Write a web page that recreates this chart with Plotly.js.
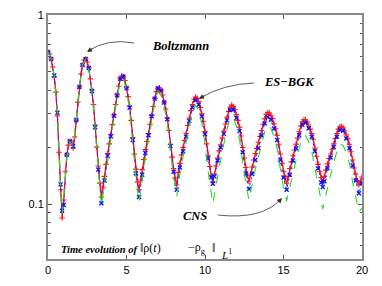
<!DOCTYPE html>
<html>
<head>
<meta charset="utf-8">
<script src="https://cdn.plot.ly/plotly-3.0.1.min.js"></script>
<style>html,body{margin:0;padding:0;background:#fff;}#chart{width:382px;height:286px;}</style>
</head>
<body>
<div id="chart"></div>
<script>
// time grid of the Boltzmann curve
var tBoltz = [0,0.1,0.2,0.3,0.4,0.5,0.6,0.7,0.8,0.9,1,1.1,1.2,1.3,1.4,1.5,1.6,1.7,1.8,1.9,2,2.1,2.2,2.3,2.4,2.5,2.6,2.7,2.8,2.9,3,3.1,3.2,3.3,3.4,3.5,3.6,3.7,3.8,3.9,4,4.1,4.2,4.3,4.4,4.5,4.6,4.7,4.8,4.9,5,5.1,5.2,5.3,5.4,5.5,5.6,5.7,5.8,5.9,6,6.1,6.2,6.3,6.4,6.5,6.6,6.7,6.8,6.9,7,7.1,7.2,7.3,7.4,7.5,7.6,7.7,7.8,7.9,8,8.1,8.2,8.3,8.4,8.5,8.6,8.7,8.8,8.9,9,9.1,9.2,9.3,9.4,9.5,9.6,9.7,9.8,9.9,10,10.1,10.2,10.3,10.4,10.5,10.6,10.7,10.8,10.9,11,11.1,11.2,11.3,11.4,11.5,11.6,11.7,11.8,11.9,12,12.1,12.2,12.3,12.4,12.5,12.6,12.7,12.8,12.9,13,13.1,13.2,13.3,13.4,13.5,13.6,13.7,13.8,13.9,14,14.1,14.2,14.3,14.4,14.5,14.6,14.7,14.8,14.9,15,15.1,15.2,15.3,15.4,15.5,15.6,15.7,15.8,15.9,16,16.1,16.2,16.3,16.4,16.5,16.6,16.7,16.8,16.9,17,17.1,17.2,17.3,17.4,17.5,17.6,17.7,17.8,17.9,18,18.1,18.2,18.3,18.4,18.5,18.6,18.7,18.8,18.9,19,19.1,19.2,19.3,19.4,19.5,19.6,19.7,19.8,19.9,20];
var boltzmann = [0.637,0.622,0.585,0.531,0.470,0.391,0.292,0.188,0.119,0.0843,
0.105,0.148,0.182,0.205,0.215,0.210,0.198,0.226,0.278,0.346,
0.416,0.487,0.544,0.578,0.585,0.564,0.525,0.459,0.401,0.336,
0.262,0.200,0.159,0.129,0.109,0.122,0.140,0.162,0.185,0.208,
0.233,0.263,0.296,0.336,0.378,0.420,0.460,0.477,0.473,0.450,
0.413,0.370,0.329,0.277,0.225,0.184,0.153,0.131,0.119,0.134,
0.152,0.172,0.194,0.214,0.236,0.264,0.294,0.328,0.362,0.393,
0.410,0.412,0.399,0.377,0.346,0.318,0.285,0.245,0.207,0.177,
0.154,0.137,0.126,0.147,0.164,0.182,0.199,0.217,0.236,0.260,
0.285,0.312,0.336,0.358,0.368,0.362,0.348,0.324,0.300,0.274,
0.242,0.208,0.180,0.158,0.141,0.131,0.144,0.159,0.175,0.191,
0.206,0.223,0.243,0.265,0.288,0.309,0.326,0.334,0.328,0.316,
0.297,0.277,0.255,0.229,0.199,0.175,0.156,0.141,0.132,0.144,
0.157,0.171,0.185,0.197,0.212,0.228,0.245,0.264,0.282,0.298,
0.305,0.303,0.295,0.283,0.266,0.250,0.231,0.207,0.184,0.164,
0.149,0.137,0.129,0.140,0.154,0.167,0.180,0.193,0.207,0.223,
0.241,0.259,0.272,0.279,0.279,0.271,0.262,0.249,0.236,0.220,
0.198,0.179,0.162,0.148,0.138,0.131,0.140,0.151,0.163,0.174,
0.184,0.195,0.208,0.222,0.236,0.249,0.256,0.258,0.253,0.244,
0.232,0.221,0.207,0.189,0.171,0.155,0.144,0.133,0.126,0.132,
0.139];
// time grid of the ES-BGK and CNS curves
var tCoarse = [0,0.2,0.4,0.6,0.8,0.9,1,1.2,1.4,1.6,1.8,2,2.2,2.4,2.6,2.8,3,3.2,3.4,3.6,3.8,4,4.2,4.4,4.6,4.8,5,5.2,5.4,5.6,5.8,6,6.2,6.4,6.6,6.8,7,7.2,7.4,7.6,7.8,8,8.2,8.4,8.6,8.8,9,9.2,9.4,9.6,9.8,10,10.2,10.4,10.5,10.6,10.8,11,11.2,11.4,11.6,11.8,12,12.2,12.4,12.6,12.8,13,13.2,13.4,13.6,13.8,14,14.2,14.4,14.6,14.8,15,15.2,15.4,15.6,15.8,16,16.2,16.4,16.6,16.8,17,17.2,17.4,17.5,17.6,17.8,18,18.2,18.4,18.6,18.8,19,19.2,19.4,19.6,19.8,20];
var esbgk = [0.637,0.585,0.478,0.304,0.127,0.092,0.0988,0.182,0.215,0.202,0.278,0.416,0.544,0.585,0.524,0.396,0.255,0.152,0.101,0.133,0.180,0.228,0.293,0.376,0.460,0.473,0.411,0.324,0.218,0.145,0.109,0.143,0.186,0.231,0.291,0.361,0.410,0.398,0.344,0.281,0.203,0.148,0.119,0.156,0.190,0.227,0.275,0.324,0.355,0.335,0.290,0.234,0.174,0.138,0.128,0.140,0.170,0.199,0.235,0.277,0.314,0.316,0.285,0.243,0.188,0.145,0.120,0.144,0.171,0.198,0.231,0.267,0.289,0.279,0.251,0.218,0.171,0.138,0.119,0.143,0.170,0.197,0.231,0.263,0.269,0.252,0.227,0.190,0.154,0.130,0.123,0.132,0.155,0.176,0.200,0.227,0.246,0.244,0.222,0.197,0.160,0.133,0.114,0.129];
var cns = [0.637,0.586,0.474,0.299,0.123,0.0885,0.107,0.177,0.215,0.200,0.278,0.416,0.544,0.585,0.519,0.394,0.252,0.148,0.0976,0.128,0.174,0.222,0.285,0.367,0.449,0.461,0.400,0.313,0.210,0.138,0.102,0.135,0.176,0.219,0.277,0.344,0.390,0.379,0.327,0.266,0.190,0.139,0.110,0.145,0.178,0.213,0.258,0.305,0.334,0.313,0.267,0.209,0.149,0.111,0.100,0.112,0.142,0.172,0.208,0.249,0.285,0.287,0.258,0.219,0.168,0.128,0.105,0.127,0.153,0.177,0.208,0.240,0.260,0.251,0.226,0.195,0.153,0.122,0.104,0.124,0.146,0.170,0.198,0.224,0.230,0.214,0.190,0.156,0.124,0.101,0.094,0.103,0.123,0.143,0.166,0.190,0.207,0.204,0.186,0.164,0.131,0.107,0.0907,0.0953];
var xTicks = [0,5,10,15,20];
var yTicks = [0.1,1];
var yTickText = ['0.1','1'];
var yMinor = [0.06,0.07,0.08,0.09,0.2,0.3,0.4,0.5,0.6,0.7,0.8,0.9];
var labels = ['Boltzmann','ES\u2212BGK','CNS'];

var traces = [
  {x:tBoltz, y:boltzmann, type:'scatter', mode:'lines+markers', name:labels[0],
   line:{color:'#ff0000', width:1.3},
   marker:{symbol:'cross-thin', size:4, color:'#ff0000', line:{color:'#ff1a1a', width:1.1}}},
  {x:tCoarse, y:esbgk, type:'scatter', mode:'lines+markers', name:labels[1],
   line:{color:'#3030ff', width:1, dash:'dot'},
   marker:{symbol:'x-thin', size:4, color:'#0000ff', line:{color:'#1010ff', width:1.4}}},
  {x:tCoarse, y:cns, type:'scatter', mode:'lines', name:labels[2],
   line:{color:'#22dd22', width:1.1, dash:'dash'}}
];

function px(x){return (x-48)/314;}
function py(y){return (259-y)/244;}
var serif = {family:'Liberation Serif', size:12.5, color:'#000'};
var arrowCol = '#333';

var layout = {
  width:382, height:286,
  margin:{l:48, r:20, t:15, b:27, pad:0},
  paper_bgcolor:'#fff', plot_bgcolor:'#fff',
  showlegend:false,
  xaxis:{range:[0,20], tickvals:xTicks, ticks:'inside', ticklen:4, tickwidth:1, tickcolor:'#555',
    showline:true, linecolor:'#8a8a8a', linewidth:2, mirror:'ticks', showgrid:false, zeroline:false,
    tickfont:{family:'Liberation Sans', size:11, color:'#000'}},
  yaxis:{type:'log', range:[-1.291,0], tickvals:yTicks, ticktext:yTickText, ticks:'inside', ticklen:4, tickwidth:1, tickcolor:'#555',
    showline:true, linecolor:'#8a8a8a', linewidth:2, mirror:'ticks', showgrid:false, zeroline:false,
    tickfont:{family:'Liberation Sans', size:11, color:'#000'},
    minor:{tickvals:yMinor, ticks:'inside', ticklen:2.5, tickwidth:1, tickcolor:'#555', showgrid:false}},
  shapes:[
    {type:'path', xref:'paper', yref:'paper', line:{color:arrowCol, width:0.8},
     path:'M'+px(134)+','+py(43)+' Q'+px(108)+','+py(38)+' '+px(88)+','+py(51)},
    {type:'path', xref:'paper', yref:'paper', line:{color:arrowCol, width:0.8},
     path:'M'+px(254)+','+py(83)+' Q'+px(224)+','+py(84)+' '+px(200)+','+py(98)},
    {type:'path', xref:'paper', yref:'paper', line:{color:arrowCol, width:0.8},
     path:'M'+px(218)+','+py(215)+' Q'+px(262)+','+py(220)+' '+px(281)+','+py(199)}
  ],
  annotations:[
    {xref:'paper', yref:'paper', x:px(180), y:py(46), text:'<b><i>'+labels[0]+'</i></b>', showarrow:false, font:serif, xanchor:'center', yanchor:'middle'},
    {xref:'paper', yref:'paper', x:px(289), y:py(82), text:'<b><i>'+labels[1]+'</i></b>', showarrow:false, font:serif, xanchor:'center', yanchor:'middle'},
    {xref:'paper', yref:'paper', x:px(195), y:py(216), text:'<b><i>'+labels[2]+'</i></b>', showarrow:false, font:serif, xanchor:'center', yanchor:'middle'},
    {xref:'paper', yref:'paper', x:px(87), y:py(52), text:'', showarrow:true, arrowhead:2, arrowsize:1, arrowwidth:1, arrowcolor:arrowCol, ax:7, ay:-4.5, standoff:0},
    {xref:'paper', yref:'paper', x:px(199), y:py(99), text:'', showarrow:true, arrowhead:2, arrowsize:1, arrowwidth:1, arrowcolor:arrowCol, ax:7, ay:-4.2, standoff:0},
    {xref:'paper', yref:'paper', x:px(282), y:py(198), text:'', showarrow:true, arrowhead:2, arrowsize:1, arrowwidth:1, arrowcolor:arrowCol, ax:-5.4, ay:5.9, standoff:0},
    {xref:'paper', yref:'paper', x:px(59), y:py(249), text:'<b><i>Time evolution of</i></b>', showarrow:false, font:{family:'Liberation Serif', size:10.5, color:'#000'}, xanchor:'left', yanchor:'middle'},
    {xref:'paper', yref:'paper', x:px(138), y:py(248), text:'\u2016\u03c1(<i>t</i>)', showarrow:false, font:{family:'Liberation Serif', size:12, color:'#000'}, xanchor:'left', yanchor:'middle'},
    {xref:'paper', yref:'paper', x:px(186), y:py(248), text:'\u2212\u03c1<sub>g</sub>', showarrow:false, font:{family:'Liberation Serif', size:12, color:'#000'}, xanchor:'left', yanchor:'middle'},
    {xref:'paper', yref:'paper', x:px(210), y:py(248), text:'\u2016', showarrow:false, font:{family:'Liberation Serif', size:12, color:'#000'}, xanchor:'left', yanchor:'middle'},
    {xref:'paper', yref:'paper', x:px(219), y:py(254), text:'<i>L</i><sup>1</sup>', showarrow:false, font:{family:'Liberation Serif', size:11, color:'#000'}, xanchor:'left', yanchor:'middle'}
  ]
};

Plotly.newPlot('chart', traces, layout, {staticPlot:true, displayModeBar:false});
</script>
</body>
</html>
